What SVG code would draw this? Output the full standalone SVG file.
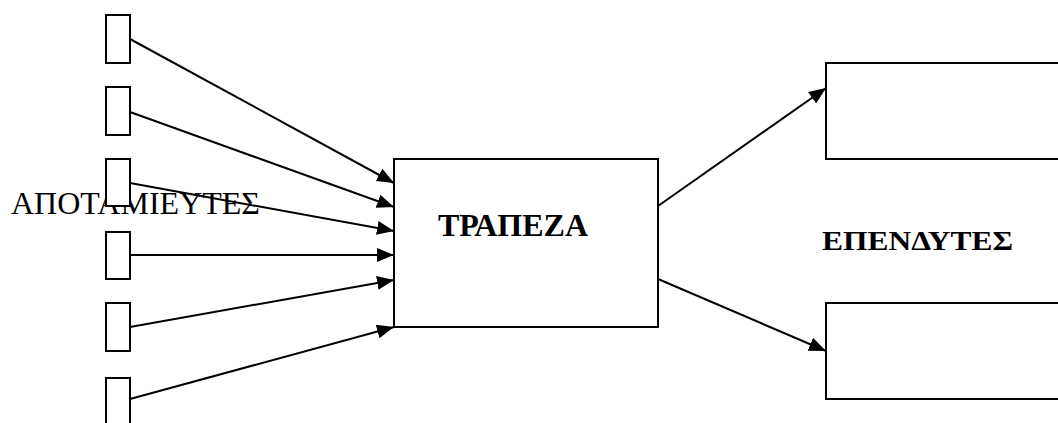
<svg xmlns="http://www.w3.org/2000/svg" width="1058" height="423" viewBox="0 0 1058 423">
  <style>
    .box { fill: #ffffff; stroke: #000000; stroke-width: 2; }
    .edge { stroke: #000000; stroke-width: 2; fill: none; marker-end: url(#arrow); }
    .label { font-family: "Liberation Serif", "Times New Roman", serif; fill: #000000; }
    .bold { font-weight: bold; }
  </style>
  <defs>
    <marker id="arrow" markerUnits="userSpaceOnUse" markerWidth="18" markerHeight="14" refX="17" refY="7" orient="auto">
      <path d="M0,0 L17,7 L0,14 Z" fill="#000000"/>
    </marker>
  </defs>
  <rect width="1058" height="423" fill="#ffffff"/>

  <!-- savers caption sits behind the small boxes -->
  <text id="label-savers" class="label" x="11" y="214" font-size="32" textLength="249" lengthAdjust="spacingAndGlyphs">ΑΠΟΤΑΜΙΕΥΤΕΣ</text>

  <g id="saver-1"><rect class="box" x="106" y="15" width="24" height="48"/></g>
  <g id="saver-2"><rect class="box" x="106" y="87" width="24" height="48"/></g>
  <g id="saver-3"><rect class="box" x="106" y="159" width="24" height="47"/></g>
  <g id="saver-4"><rect class="box" x="106" y="232" width="24" height="47"/></g>
  <g id="saver-5"><rect class="box" x="106" y="303" width="24" height="48"/></g>
  <g id="saver-6"><rect class="box" x="106" y="378" width="24" height="60"/></g>

  <g id="bank">
    <rect class="box" x="394" y="159" width="264" height="168"/>
    <text class="label bold" x="438" y="236" font-size="32">ΤΡΑΠΕΖΑ</text>
  </g>

  <g id="investor-1"><rect class="box" x="826" y="63" width="240" height="96"/></g>
  <g id="investor-2"><rect class="box" x="826" y="303" width="240" height="96"/></g>

  <text id="label-investors" class="label bold" x="822" y="250" font-size="28" textLength="191" lengthAdjust="spacingAndGlyphs">ΕΠΕΝΔΥΤΕΣ</text>

  <g id="connectors">
    <line class="edge" x1="130" y1="39" x2="394" y2="183"/>
    <line class="edge" x1="130" y1="112" x2="394" y2="207"/>
    <line class="edge" x1="130" y1="183" x2="394" y2="231"/>
    <line class="edge" x1="130" y1="255" x2="394" y2="255"/>
    <line class="edge" x1="130" y1="327" x2="394" y2="280"/>
    <line class="edge" x1="130" y1="399" x2="394" y2="327"/>
    <line class="edge" x1="658" y1="206" x2="826" y2="88"/>
    <line class="edge" x1="658" y1="279" x2="826" y2="351"/>
  </g>
</svg>
